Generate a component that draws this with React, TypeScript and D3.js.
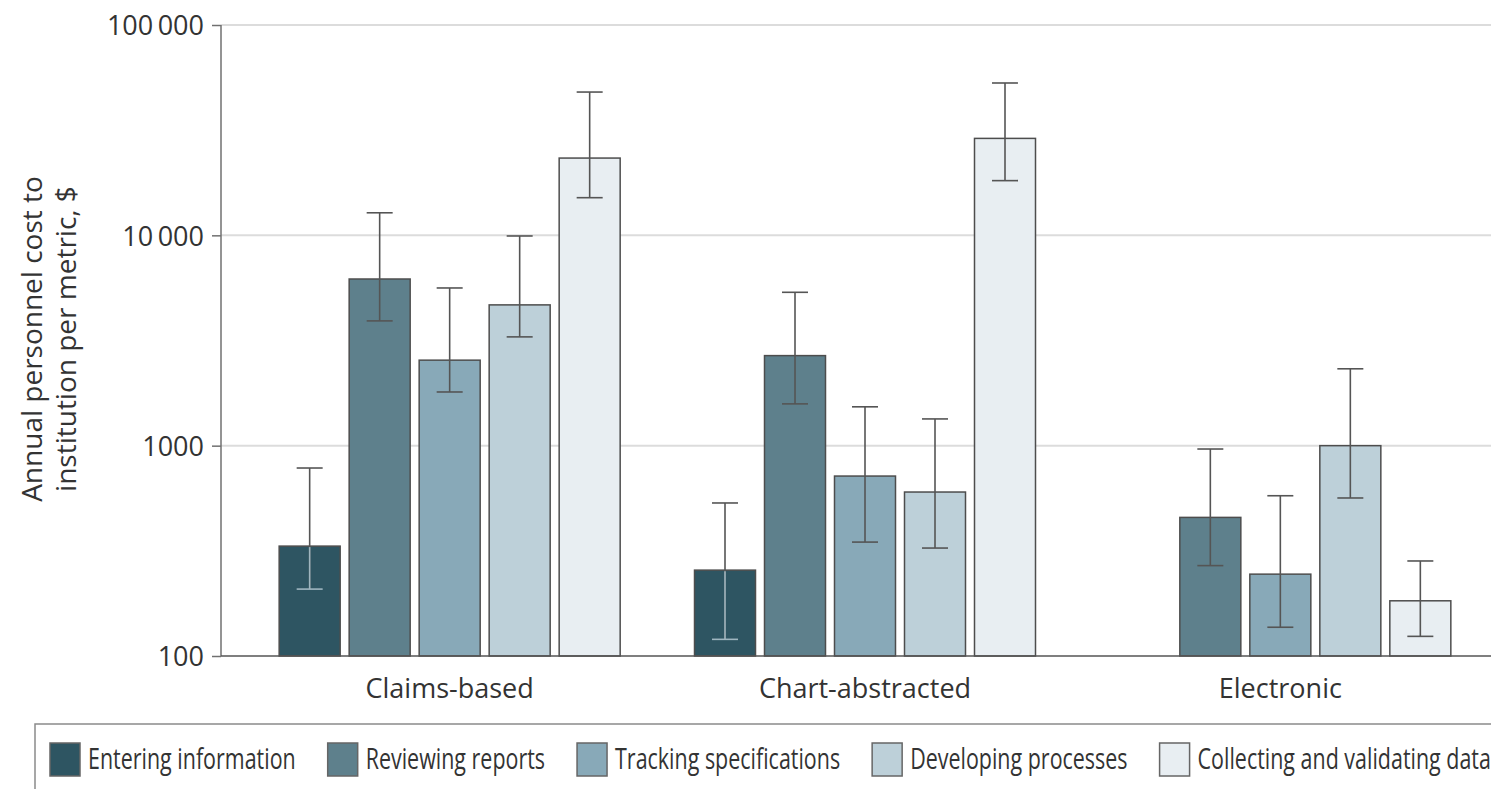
import * as d3 from "d3";
import { useEffect, useRef } from "react";

const groups = ["Claims-based", "Chart-abstracted", "Electronic"];
const series = [
  "Entering information",
  "Reviewing reports",
  "Tracking specifications",
  "Developing processes",
  "Collecting and validating data",
];
const colors = ["#2e5562", "#5e808c", "#88a9b8", "#bdd0d9", "#e8eef2"];

// [value, lower, upper] per group, null = not reported
const entering = [[333, 208, 783], [256, 120, 534], null];
const reviewing = [[6200, 3920, 12800], [2680, 1580, 5360], [456, 269, 964]];
const tracking = [[2550, 1800, 5620], [717, 348, 1530], [245, 137, 578]];
const developing = [[4670, 3290, 9930], [602, 326, 1340], [1000, 564, 2320]];
const collecting = [[23300, 15100, 48000], [28900, 18200, 53000], [183, 124, 283]];

const yTicks = [100, 1000, 10000, 100000];
const yTickLabels = ["100", "1000", "10\u2009000", "100\u2009000"];

const W = 1491;
const H = 789;
const font = "'Open Sans', sans-serif";

export default function App() {
  const ref = useRef(null);

  useEffect(() => {
    const svg = d3.select(ref.current);
    svg.selectAll("*").remove();

    const allSeries = [entering, reviewing, tracking, developing, collecting];
    const data = [];
    groups.forEach((g, gi) => {
      series.forEach((s, si) => {
        const d = allSeries[si][gi];
        if (d) data.push({ g, s, si, v: d[0], lo: d[1], hi: d[2] });
      });
    });

    const margin = { top: 25, left: 221, bottom: 656 };
    const y = d3.scaleLog().domain([100, 100000]).range([margin.bottom, margin.top]);
    const x0 = d3.scaleBand().domain(groups).range([242, 1488]);
    const x1 = d3.scaleBand().domain(series).range([0, 341]).paddingInner(9 / 70);
    const barX = (d) => x0(d.g) + x0.bandwidth() / 2 - 170.5 + x1(d.s);

    // gridlines
    svg
      .append("g")
      .selectAll("line")
      .data(yTicks.slice(1))
      .join("line")
      .attr("x1", margin.left)
      .attr("x2", W)
      .attr("y1", (d) => y(d))
      .attr("y2", (d) => y(d))
      .attr("stroke", "#dcdcdc")
      .attr("stroke-width", 2);

    // y axis
    const yAxis = d3
      .axisLeft(y)
      .tickValues(yTicks)
      .tickFormat((d, i) => yTickLabels[i])
      .tickSize(9)
      .tickPadding(8);
    const ga = svg.append("g").attr("transform", `translate(${margin.left},0)`).call(yAxis);
    ga.select(".domain").attr("stroke", "#707070").attr("stroke-width", 1.5).attr("d", `M0,${margin.top}V${margin.bottom}`);
    ga.selectAll(".tick line").attr("stroke", "#707070").attr("stroke-width", 1.5);
    ga.selectAll(".tick text")
      .attr("font-family", font)
      .attr("font-size", 27)
      .attr("fill", "#333")
      .attr("dy", "0.36em");

    // bars
    svg
      .append("g")
      .selectAll("rect")
      .data(data)
      .join("rect")
      .attr("x", barX)
      .attr("y", (d) => y(d.v))
      .attr("width", x1.bandwidth())
      .attr("height", (d) => y(100) - y(d.v))
      .attr("fill", (d) => colors[d.si])
      .attr("stroke", "#4d4d4d")
      .attr("stroke-width", 1.5);

    // x baseline
    svg
      .append("line")
      .attr("x1", margin.left)
      .attr("x2", W)
      .attr("y1", margin.bottom)
      .attr("y2", margin.bottom)
      .attr("stroke", "#555")
      .attr("stroke-width", 1.5);

    // error bars
    const eb = svg.append("g").selectAll("g").data(data).join("g");
    const cx = (d) => barX(d) + x1.bandwidth() / 2;
    eb.append("line")
      .attr("x1", cx)
      .attr("x2", cx)
      .attr("y1", (d) => y(d.hi))
      .attr("y2", (d) => y(d.lo))
      .attr("stroke", "#555")
      .attr("stroke-width", 1.6);
    // inside the darkest bar the whisker is drawn light
    eb.filter((d) => d.si === 0)
      .append("line")
      .attr("x1", cx)
      .attr("x2", cx)
      .attr("y1", (d) => y(d.v) + 1)
      .attr("y2", (d) => y(d.lo))
      .attr("stroke", "#9fb6c0")
      .attr("stroke-width", 1.6);
    eb.append("line")
      .attr("x1", (d) => cx(d) - 13)
      .attr("x2", (d) => cx(d) + 13)
      .attr("y1", (d) => y(d.hi))
      .attr("y2", (d) => y(d.hi))
      .attr("stroke", "#555")
      .attr("stroke-width", 1.6);
    eb.append("line")
      .attr("x1", (d) => cx(d) - 13)
      .attr("x2", (d) => cx(d) + 13)
      .attr("y1", (d) => y(d.lo))
      .attr("y2", (d) => y(d.lo))
      .attr("stroke", (d) => (d.si === 0 ? "#9fb6c0" : "#555"))
      .attr("stroke-width", 1.6);

    // group labels
    svg
      .append("g")
      .selectAll("text")
      .data(groups)
      .join("text")
      .attr("x", (g) => x0(g) + x0.bandwidth() / 2)
      .attr("y", 698)
      .attr("text-anchor", "middle")
      .attr("font-family", font)
      .attr("font-size", 27)
      .attr("fill", "#333")
      .text((g) => g);

    // y title
    const yt = svg
      .append("text")
      .attr("transform", "translate(0,339) rotate(-90)")
      .attr("text-anchor", "middle")
      .attr("font-family", font)
      .attr("font-size", 28)
      .attr("fill", "#333");
    yt.append("tspan").attr("x", 0).attr("y", 42).text("Annual personnel cost to");
    yt.append("tspan").attr("x", 0).attr("y", 76).text("institution per metric, $");

    // legend
    svg
      .append("rect")
      .attr("x", 35)
      .attr("y", 724)
      .attr("width", W)
      .attr("height", 100)
      .attr("fill", "none")
      .attr("stroke", "#8a8a8a")
      .attr("stroke-width", 1.5);
    const squeeze = 0.74;
    let lx = 50;
    series.forEach((s, i) => {
      svg
        .append("rect")
        .attr("x", lx)
        .attr("y", 743)
        .attr("width", 30)
        .attr("height", 33)
        .attr("fill", colors[i])
        .attr("stroke", "#666")
        .attr("stroke-width", 1.5);
      const t = svg
        .append("text")
        .attr("transform", `translate(${lx + 38},769) scale(${squeeze},1)`)
        .attr("font-family", font)
        .attr("font-size", 29)
        .attr("fill", "#333")
        .text(s);
      const w = t.node().getComputedTextLength() * squeeze;
      lx += 38 + w + 32;
    });
  }, []);

  return (
    <svg
      ref={ref}
      width={W}
      height={H}
      style={{ position: "absolute", left: 0, top: 0, background: "#fff", display: "block" }}
    />
  );
}
